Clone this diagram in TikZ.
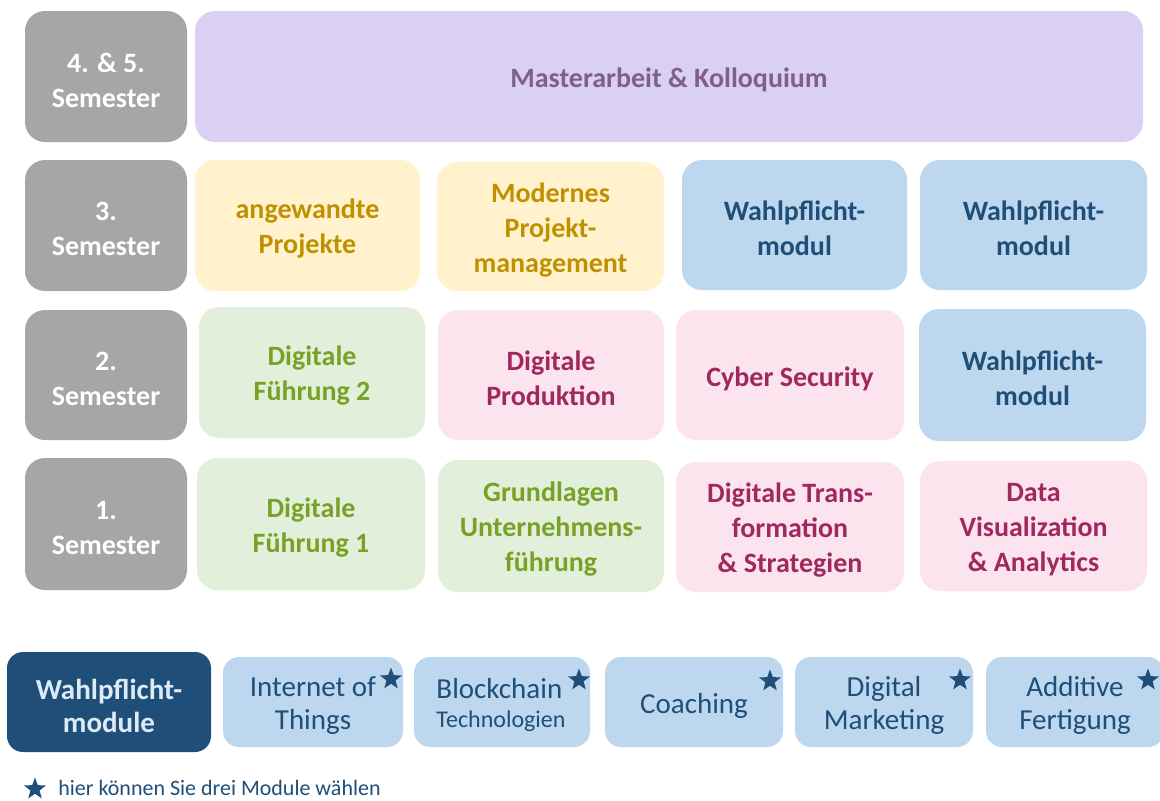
\documentclass[tikz,border=0pt]{standalone}
\usepackage{fontspec}
\setmainfont{Carlito}
\usetikzlibrary{shapes.geometric}

\definecolor{semgray}{HTML}{A6A6A6}
\definecolor{lavfill}{HTML}{D9D0F3}
\definecolor{lavtext}{HTML}{7E5F8E}
\definecolor{yelfill}{HTML}{FFF2CC}
\definecolor{yeltext}{HTML}{BF9000}
\definecolor{grnfill}{HTML}{E2EFDA}
\definecolor{grntext}{HTML}{78A226}
\definecolor{pnkfill}{HTML}{FCE4EF}
\definecolor{pnktext}{HTML}{A0285E}
\definecolor{blufill}{HTML}{BDD7EE}
\definecolor{blutext}{HTML}{1F4E79}
\definecolor{darkfill}{HTML}{1F4E79}
\definecolor{darktext}{HTML}{DDEBF7}

% box from (x1,y1) to (x2,y2) in pixel units, its text set a little lower
\newcommand\modbox[7]{%
  \node[#1, minimum width={(#5-#3)*0.5pt}, minimum height={(#6-#4)*0.5pt}]
    (#2) at ({(#3+#5)/2},{(#4+#6)/2}) {};
  \node[#1 text] (#2-t) at ({(#3+#5)/2},{(#4+#6)/2+3.5}) {#7};}

\tikzset{
  card/.style={rounded corners=10pt, inner sep=0pt},
  card text/.style={inner sep=0pt, align=center,
    font=\fontsize{14}{17.5}\selectfont\bfseries},
  sem/.style={card, fill=semgray},
  sem text/.style={card text, text=white},
  lav/.style={card, fill=lavfill},
  lav text/.style={card text, text=lavtext},
  yel/.style={card, fill=yelfill},
  yel text/.style={card text, text=yeltext},
  grn/.style={card, fill=grnfill},
  grn text/.style={card text, text=grntext},
  pnk/.style={card, fill=pnkfill},
  pnk text/.style={card text, text=pnktext},
  blu/.style={card, fill=blufill},
  blu text/.style={card text, text=blutext},
  darkcard/.style={card, rounded corners=8pt, fill=darkfill},
  darkcard text/.style={card text, text=darktext,
    font=\fontsize{14.5}{16.5}\selectfont\bfseries},
  elect/.style={rounded corners=8pt, inner sep=0pt, fill=blufill},
  elect text/.style={inner sep=0pt, align=center, text=blutext,
    font=\fontsize{14.5}{16.5}\selectfont},
  electstar/.style={star, star points=5, star point ratio=2.4,
    fill=darkfill, inner sep=0pt, minimum size=11.5pt},
  legend/.style={anchor=west, inner sep=0pt, text=blutext,
    font=\fontsize{11}{12}\selectfont}
}

\begin{document}
\begin{tikzpicture}[x=0.5pt,y=-0.5pt]
\clip (0,0) rectangle (1160,800);
\fill[white] (0,0) rectangle (1160,800);

% semester labels
\modbox{sem}{s45}{25}{11}{187}{142}{4. \& 5.\\Semester}
\modbox{sem}{s3}{25}{160}{187}{291}{3.\\Semester}
\modbox{sem}{s2}{25}{310}{187}{440}{2.\\Semester}
\modbox{sem}{s1}{25}{458}{187}{590}{1.\\Semester}

% 4. & 5. semester
\modbox{lav}{ma}{195}{11}{1143}{142}{Masterarbeit \& Kolloquium}

% 3. semester
\modbox{yel}{ap}{195}{160}{420}{291}{angewandte\\Projekte}
\modbox{yel}{mp}{437}{162}{664}{291}{Modernes\\Projekt-\\management}
\modbox{blu}{wa}{682}{160}{907}{290}{Wahlpflicht-\\modul}
\modbox{blu}{wb}{920}{160}{1147}{290}{Wahlpflicht-\\modul}

% 2. semester
\modbox{grn}{df2}{199}{307}{425}{438}{Digitale\\Führung 2}
\modbox{pnk}{dp}{438}{310}{664}{440}{Digitale\\Produktion}
\modbox{pnk}{cs}{676}{310}{904}{440}{Cyber Security}
\modbox{blu}{wc}{919}{309}{1146}{441}{Wahlpflicht-\\modul}

% 1. semester
\modbox{grn}{df1}{197}{458}{425}{590}{Digitale\\Führung 1}
\modbox{grn}{gu}{438}{460}{664}{592}{Grundlagen\\Unternehmens-\\führung}
\modbox{pnk}{dt}{676}{462}{904}{592}{Digitale Trans-\\formation\\\& Strategien}
\modbox{pnk}{dv}{920}{461}{1147}{591}{Data\\Visualization\\\& Analytics}

% elective modules
\modbox{darkcard}{wm}{7}{652}{211}{752}{Wahlpflicht-\\module}
\modbox{elect}{iot}{223}{657}{403}{747}{Internet of\\Things}
\node[elect, minimum width=88pt, minimum height=45pt] (bc) at (502,702) {};
\node[inner sep=0pt, align=left, text=blutext] (bc-t) at (501,705)
  {\fontsize{14.5}{16.5}\selectfont Blockchain\\[2.5pt]\fontsize{12}{14}\selectfont Technologien};
\modbox{elect}{co}{605}{657}{783}{747}{Coaching}
\modbox{elect}{dm}{795}{657}{973}{747}{Digital\\Marketing}
\modbox{elect}{af}{986}{657}{1164}{747}{Additive\\Fertigung}

\node[electstar] (st1) at (391,679) {};
\node[electstar] (st2) at (579,680) {};
\node[electstar] (st3) at (770,681) {};
\node[electstar] (st4) at (960,680) {};
\node[electstar] (st5) at (1148,680) {};

% legend
\node[electstar] (lst) at (35,789) {};
\node[legend] (ltx) at (58,788) {hier können Sie drei Module wählen};
\end{tikzpicture}
\end{document}
